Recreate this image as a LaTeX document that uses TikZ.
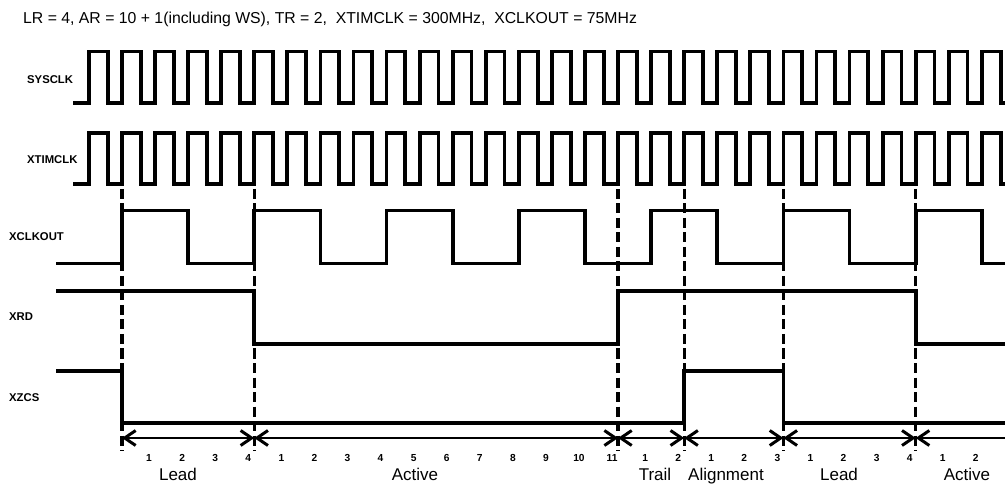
\documentclass[tikz,border=0pt]{standalone}
\usepackage{fontspec}
\setmainfont{Liberation Sans}
\usetikzlibrary{arrows.meta}
\begin{document}
\begin{tikzpicture}[x=1pt,y=-1pt,
  wave/.style={line width=3.8pt, line join=miter},
  guide/.style={line width=3.2pt, dash pattern=on 10pt off 4.5pt},
  span/.style={line width=2.6pt, {Straight Barb[length=11pt,width=15pt,line width=3pt]}-{Straight Barb[length=11pt,width=15pt,line width=3pt]}},
  spanl/.style={line width=2.6pt, {Straight Barb[length=11pt,width=15pt,line width=3pt]}-},
  sig/.style={font=\fontsize{11.3}{12}\selectfont\bfseries, anchor=base west, inner sep=0pt},
  num/.style={font=\fontsize{10.2}{11}\selectfont\bfseries, anchor=base, inner sep=0pt},
  phase/.style={font=\fontsize{17}{18}\selectfont, anchor=base, inner sep=0pt}]
\useasboundingbox (0,0) rectangle (1005,489);
\fill[white] (0,0) rectangle (1005,489);
\def\pp{33.07}
\def\tz{122}
\def\hi{18.8}
% phase boundaries
\coordinate (b0) at (122,0);
\coordinate (b1) at ({122+4*\pp},0);
\coordinate (b2) at ({122+15*\pp},0);
\coordinate (b3) at ({122+17*\pp},0);
\coordinate (b4) at ({122+20*\pp},0);
\coordinate (b5) at ({122+24*\pp},0);
\coordinate (bend) at (1005,0);
% title
\node[anchor=base west, inner sep=0pt, font=\fontsize{15.8}{17}\selectfont] (title) at (23,23.3)
  {LR = 4, AR = 10 + 1(including WS), TR = 2,\ \ XTIMCLK = 300MHz,\ \ XCLKOUT = 75MHz};
% signal names
\node[sig] (lsys) at (27,84) {SYSCLK};
\node[sig] (ltim) at (27,164) {XTIMCLK};
\node[sig] (lout) at (9,241) {XCLKOUT};
\node[sig] (lrd) at (9,321) {XRD};
\node[sig] (lcs) at (9,401) {XZCS};
% SYSCLK
\draw[wave] (73,103) \foreach \k in {-1,...,26}{
  -- ({\tz+\k*\pp},103) -- ({\tz+\k*\pp},51.5) -- ({\tz+\k*\pp+\hi},51.5) -- ({\tz+\k*\pp+\hi},103)} -- (1005,103);
% XTIMCLK
\draw[wave] (73,184) \foreach \k in {-1,...,26}{
  -- ({\tz+\k*\pp},184) -- ({\tz+\k*\pp},133.3) -- ({\tz+\k*\pp+\hi},133.3) -- ({\tz+\k*\pp+\hi},184)} -- (1005,184);
% XCLKOUT
\draw[wave] (56,263.5) \foreach \m in {0,...,6}{
  -- ({\tz+\m*4*\pp},263.5) -- ({\tz+\m*4*\pp},210.5) -- ({\tz+\m*4*\pp+2*\pp},210.5) -- ({\tz+\m*4*\pp+2*\pp},263.5)} -- (1005,263.5);
% XRD
\draw[wave] (56,291) -- (b1 |- 0,291) -- (b1 |- 0,344) -- (b2 |- 0,344) -- (b2 |- 0,291) -- (b5 |- 0,291) -- (b5 |- 0,344) -- (1005,344);
% XZCS
\draw[wave] (56,371) -- (b0 |- 0,371) -- (b0 |- 0,423) -- (b3 |- 0,423) -- (b3 |- 0,371) -- (b4 |- 0,371) -- (b4 |- 0,423) -- (1005,423);
% dashed guides
\foreach \b in {b0,b1,b2,b3,b4,b5}{
  \draw[guide] (\b |- 0,189) -- (\b |- 0,451);
}
% span arrows
\draw[span] (b0 |- 0,438) -- (b1 |- 0,438);
\draw[span] (b1 |- 0,438) -- (b2 |- 0,438);
\draw[span] (b2 |- 0,438) -- (b3 |- 0,438);
\draw[span] (b3 |- 0,438) -- (b4 |- 0,438);
\draw[span] (b4 |- 0,438) -- (b5 |- 0,438);
\draw[spanl] (b5 |- 0,438) -- (bend |- 0,438);
% cycle numbers
\foreach \k in {1,...,4}{ \node[num] (nl\k) at ([xshift={\k*\pp-6}] b0 |- 0,461) {\k}; }
\foreach \k in {1,...,11}{ \node[num] (na\k) at ([xshift={\k*\pp-6}] b1 |- 0,461) {\k}; }
\foreach \k in {1,...,2}{ \node[num] (nt\k) at ([xshift={\k*\pp-6}] b2 |- 0,461) {\k}; }
\foreach \k in {1,...,3}{ \node[num] (ng\k) at ([xshift={\k*\pp-6}] b3 |- 0,461) {\k}; }
\foreach \k in {1,...,4}{ \node[num] (nm\k) at ([xshift={\k*\pp-6}] b4 |- 0,461) {\k}; }
\foreach \k in {1,...,2}{ \node[num] (nb\k) at ([xshift={\k*\pp-6}] b5 |- 0,461) {\k}; }
% phase names
\node[phase] (p1) at (178,480) {Lead};
\node[phase] (p2) at (415,480) {Active};
\node[phase] (p3) at (655,480) {Trail};
\node[phase] (p4) at (726,480) {Alignment};
\node[phase] (p5) at (839,480) {Lead};
\node[phase] (p6) at (967,480) {Active};
\end{tikzpicture}
\end{document}
